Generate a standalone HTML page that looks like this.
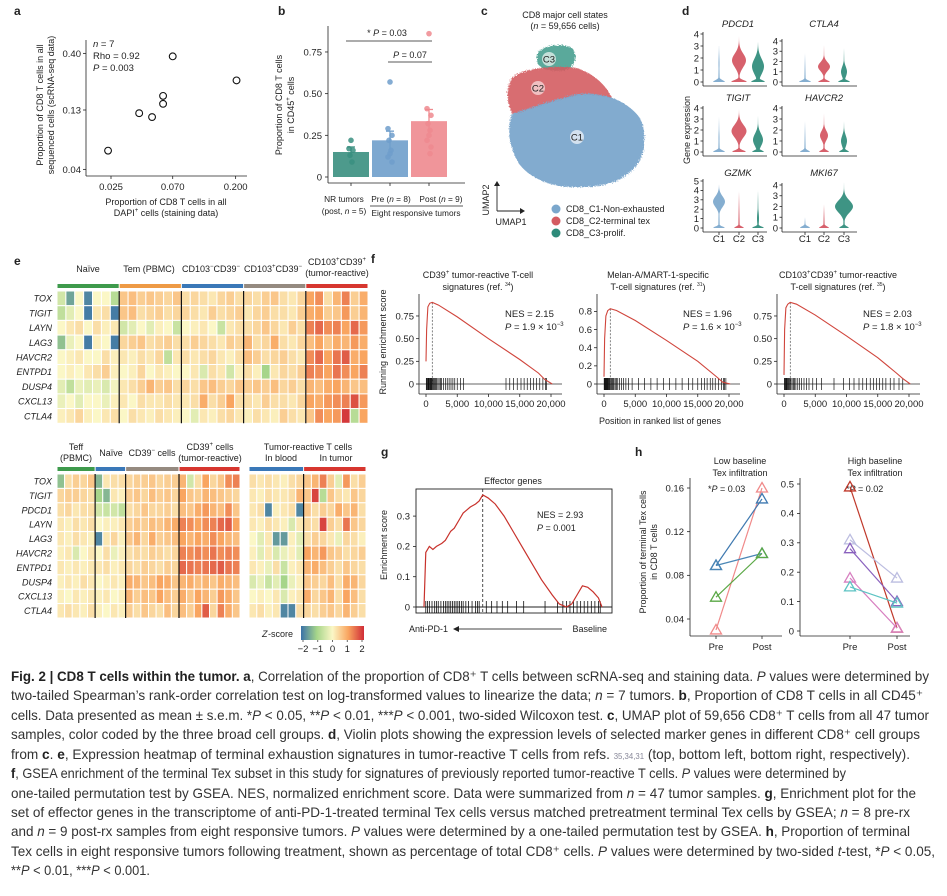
<!DOCTYPE html>
<html><head><meta charset="utf-8"><title>Fig. 2 CD8 T cells within the tumor</title>
<style>
html,body{margin:0;padding:0;background:#fff;}
svg text{font-family:"Liberation Sans",sans-serif;fill:#222;}
.t{font-size:9.5px;}
.s{font-size:9px;}
.xs{font-size:8.3px;}
.pl{font-size:12px;font-weight:bold;}
.it{font-style:italic;}
.cap{font-size:14px;fill:#333;}
.cap .b{font-weight:bold;fill:#222;}
</style></head>
<body>
<svg id="fig" width="947" height="891" viewBox="0 0 947 891" xmlns="http://www.w3.org/2000/svg">
<rect x="0" y="0" width="947" height="891" fill="#fff"/>

<!-- Panel a -->
<g id="pa">
<text class="pl" x="14" y="15">a</text>
<text class="t" x="93" y="47"><tspan class="it">n</tspan> = 7</text>
<text class="t" x="93" y="59">Rho = 0.92</text>
<text class="t" x="93" y="71"><tspan class="it">P</tspan> = 0.003</text>
<text class="s" transform="translate(43,105) rotate(-90)" text-anchor="middle">Proportion of CD8 T cells in all</text>
<text class="s" transform="translate(54,105) rotate(-90)" text-anchor="middle">sequenced cells (scRNA-seq data)</text>
<text class="s" x="166" y="205" text-anchor="middle">Proportion of CD8 T cells in all</text>
<text class="s" x="166" y="216" text-anchor="middle">DAPI<tspan font-size="6" dy="-4">+</tspan><tspan dy="4"> cells (staining data)</tspan></text>
</g>

<!-- Panel b -->
<g id="pb">
<text class="pl" x="278" y="15">b</text>
<text class="s" transform="translate(282,105) rotate(-90)" text-anchor="middle">Proportion of CD8 T cells</text>
<text class="s" transform="translate(294,105) rotate(-90)" text-anchor="middle">in CD45<tspan font-size="6" dy="-4">+</tspan><tspan dy="4"> cells</tspan></text>
<text class="xs" x="344" y="202" text-anchor="middle">NR tumors</text>
<text class="xs" x="344" y="214" text-anchor="middle">(post, <tspan class="it">n</tspan> = 5)</text>
<text class="xs" x="391" y="202" text-anchor="middle">Pre (<tspan class="it">n</tspan> = 8)</text>
<text class="xs" x="441" y="202" text-anchor="middle">Post (<tspan class="it">n</tspan> = 9)</text>
<line x1="370" y1="206" x2="463" y2="206" stroke="#222" stroke-width="0.8"/>
<text class="xs" x="416" y="216" text-anchor="middle">Eight responsive tumors</text>
<line x1="346" y1="41" x2="432" y2="41" stroke="#222" stroke-width="0.8"/>
<text class="s" x="387" y="36" text-anchor="middle">* <tspan class="it">P</tspan> = 0.03</text>
<line x1="388" y1="62" x2="432" y2="62" stroke="#222" stroke-width="0.8"/>
<text class="s" x="410" y="58" text-anchor="middle"><tspan class="it">P</tspan> = 0.07</text>
</g>

<!-- Panel c -->
<g id="pc">
<defs>
<filter id="fz" x="-10%" y="-10%" width="120%" height="120%"><feTurbulence type="fractalNoise" baseFrequency="0.9" numOctaves="1" result="n"/><feDisplacementMap in="SourceGraphic" in2="n" scale="5"/></filter>
</defs>
<text class="pl" x="481" y="15">c</text>
<text class="s" x="565" y="18" text-anchor="middle">CD8 major cell states</text>
<text class="s" x="565" y="29" text-anchor="middle">(<tspan class="it">n</tspan> = 59,656 cells)</text>
<g filter="url(#fz)">
<path d="M537,56 C538,46 560,42 572,48 C578,54 576,66 566,70 C552,72 540,70 537,62 Z" fill="#3d9a8a" opacity="0.85"/>
<path d="M512,78 C520,70 545,66 565,67 C585,66 605,82 612,98 C600,96 590,93 575,96 C555,100 530,110 512,114 C506,100 506,88 512,78 Z" fill="#d45c62" opacity="0.9"/>
<path d="M512,114 C530,108 555,99 578,94 C600,92 625,98 640,118 C648,135 646,160 630,172 C620,182 600,188 578,187 C555,188 532,180 520,165 C510,150 506,130 512,114 Z" fill="#7ba7cc" opacity="0.95"/>
</g>
<circle cx="549" cy="59" r="7" fill="#cfe6e0" opacity="0.9"/>
<text class="t" x="549" y="62.5" text-anchor="middle">C3</text>
<circle cx="538" cy="88" r="7" fill="#f3c9cb" opacity="0.9"/>
<text class="t" x="538" y="91.5" text-anchor="middle">C2</text>
<circle cx="577" cy="137" r="7" fill="#dbe7f2" opacity="0.9"/>
<text class="t" x="577" y="140.5" text-anchor="middle">C1</text>
<line x1="497" y1="211" x2="497" y2="184" stroke="#222" stroke-width="0.9"/>
<path d="M494,186 L497,181 L500,186 Z" fill="#222"/>
<line x1="497" y1="211" x2="522" y2="211" stroke="#222" stroke-width="0.9"/>
<path d="M520,208 L525,211 L520,214 Z" fill="#222"/>
<text class="s" transform="translate(489,200) rotate(-90)" text-anchor="middle">UMAP2</text>
<text class="s" x="511" y="225" text-anchor="middle">UMAP1</text>
<circle cx="556" cy="209" r="4.5" fill="#7ba7cc"/>
<text class="s" x="566" y="212">CD8_C1-Non-exhausted</text>
<circle cx="556" cy="221" r="4.5" fill="#d45c62"/>
<text class="s" x="566" y="224">CD8_C2-terminal tex</text>
<circle cx="556" cy="233" r="4.5" fill="#2e8b7a"/>
<text class="s" x="566" y="236">CD8_C3-prolif.</text>
</g>

<!-- Panel d -->
<g id="pd">
<text class="pl" x="682" y="15">d</text>
<text class="s" transform="translate(690,130) rotate(-90)" text-anchor="middle">Gene expression</text>
</g>

<!-- Panel e -->
<g id="pe">
<text class="pl" x="14" y="265">e</text>
<text class="s" x="88" y="272" text-anchor="middle">Naïve</text>
<text class="s" x="149" y="272" text-anchor="middle">Tem (PBMC)</text>
<text class="s" x="211" y="272" text-anchor="middle">CD103<tspan font-size="6" dy="-4">−</tspan><tspan dy="4">CD39</tspan><tspan font-size="6" dy="-4">−</tspan></text>
<text class="s" x="273" y="272" text-anchor="middle">CD103<tspan font-size="6" dy="-4">+</tspan><tspan dy="4">CD39</tspan><tspan font-size="6" dy="-4">−</tspan></text>
<text class="s" x="337" y="265" text-anchor="middle">CD103<tspan font-size="6" dy="-4">+</tspan><tspan dy="4">CD39</tspan><tspan font-size="6" dy="-4">+</tspan></text>
<text class="s" x="337" y="276" text-anchor="middle">(tumor-reactive)</text>
<text class="s" x="76" y="450" text-anchor="middle">Teff</text>
<text class="s" x="76" y="461" text-anchor="middle">(PBMC)</text>
<text class="s" x="111" y="456" text-anchor="middle">Naïve</text>
<text class="s" x="152" y="456" text-anchor="middle">CD39<tspan font-size="6" dy="-4">−</tspan><tspan dy="4"> cells</tspan></text>
<text class="s" x="210" y="450" text-anchor="middle">CD39<tspan font-size="6" dy="-4">+</tspan><tspan dy="4"> cells</tspan></text>
<text class="s" x="210" y="461" text-anchor="middle">(tumor-reactive)</text>
<text class="s" x="308" y="450" text-anchor="middle">Tumor-reactive T cells</text>
<text class="s" x="281" y="461" text-anchor="middle">In blood</text>
<text class="s" x="336" y="461" text-anchor="middle">In tumor</text>
<text class="s it" x="262" y="637">Z</text><text class="s" x="268" y="637">-score</text>
</g>

<!-- Panel f -->
<g id="pf">
<text class="pl" x="371" y="263">f</text>
<text class="s" transform="translate(386,342) rotate(-90)" text-anchor="middle">Running enrichment score</text>
<text class="s" x="660" y="424" text-anchor="middle">Position in ranked list of genes</text>
<text class="s" x="478" y="278" text-anchor="middle">CD39<tspan font-size="6" dy="-4">+</tspan><tspan dy="4"> tumor-reactive T-cell</tspan></text>
<text class="s" x="478" y="290" text-anchor="middle">signatures (ref. <tspan font-size="5" dy="-4">34</tspan><tspan dy="4">)</tspan></text>
<text class="s" x="658" y="278" text-anchor="middle">Melan-A/MART-1-specific</text>
<text class="s" x="658" y="290" text-anchor="middle">T-cell signatures (ref. <tspan font-size="5" dy="-4">31</tspan><tspan dy="4">)</tspan></text>
<text class="s" x="838" y="278" text-anchor="middle">CD103<tspan font-size="6" dy="-4">+</tspan><tspan dy="4">CD39</tspan><tspan font-size="6" dy="-4">+</tspan><tspan dy="4"> tumor-reactive</tspan></text>
<text class="s" x="838" y="290" text-anchor="middle">T-cell signatures (ref. <tspan font-size="5" dy="-4">35</tspan><tspan dy="4">)</tspan></text>
</g>

<!-- Panel g -->
<g id="pg">
<text class="pl" x="381" y="456">g</text>
<text class="s" x="513" y="484" text-anchor="middle">Effector genes</text>
<text class="s" transform="translate(387,545) rotate(-90)" text-anchor="middle">Enrichment score</text>
<text class="s" x="537" y="518">NES = 2.93</text>
<text class="s" x="537" y="531"><tspan class="it">P</tspan> = 0.001</text>
<text class="s" x="409" y="632">Anti-PD-1</text>
<line x1="458" y1="629" x2="562" y2="629" stroke="#444" stroke-width="0.9"/>
<path d="M453,629 L459,626 L459,632 Z" fill="#222"/>
<text class="s" x="607" y="632" text-anchor="end">Baseline</text>
</g>

<!-- Panel h -->
<g id="ph">
<text class="pl" x="635" y="456">h</text>
<text class="s" x="740" y="464" text-anchor="middle">Low baseline</text>
<text class="s" x="740" y="476" text-anchor="middle">Tex infiltration</text>
<text class="s" x="875" y="464" text-anchor="middle">High baseline</text>
<text class="s" x="875" y="476" text-anchor="middle">Tex infiltration</text>
<text class="s" x="708" y="492">*<tspan class="it">P</tspan> = 0.03</text>
<text class="s" x="846" y="492">*<tspan class="it">P</tspan> = 0.02</text>
<text class="s" transform="translate(646,552) rotate(-90)" text-anchor="middle">Proportion of terminal Tex cells</text>
<text class="s" transform="translate(657,552) rotate(-90)" text-anchor="middle">in CD8 T cells</text>
</g>

<!-- Caption -->
<g id="caption">
<text class="cap" x="11" y="681" textLength="918" lengthAdjust="spacingAndGlyphs"><tspan class="b">Fig. 2 | CD8 T cells within the tumor. a</tspan>, Correlation of the proportion of CD8⁺ T cells between scRNA-seq and staining data. <tspan class="it">P</tspan> values were determined by</text>
<text class="cap" x="11" y="700" textLength="912" lengthAdjust="spacingAndGlyphs">two-tailed Spearman’s rank-order correlation test on log-transformed values to linearize the data; <tspan class="it">n</tspan> = 7 tumors. <tspan class="b">b</tspan>, Proportion of CD8 T cells in all CD45⁺</text>
<text class="cap" x="11" y="720" textLength="918" lengthAdjust="spacingAndGlyphs">cells. Data presented as mean ± s.e.m. *<tspan class="it">P</tspan> &lt; 0.05, **<tspan class="it">P</tspan> &lt; 0.01, ***<tspan class="it">P</tspan> &lt; 0.001, two-sided Wilcoxon test. <tspan class="b">c</tspan>, UMAP plot of 59,656 CD8⁺ T cells from all 47 tumor</text>
<text class="cap" x="11" y="739" textLength="909" lengthAdjust="spacingAndGlyphs">samples, color coded by the three broad cell groups. <tspan class="b">d</tspan>, Violin plots showing the expression levels of selected marker genes in different CD8⁺ cell groups</text>
<text class="cap" x="11" y="759" textLength="899" lengthAdjust="spacingAndGlyphs">from <tspan class="b">c</tspan>. <tspan class="b">e</tspan>, Expression heatmap of terminal exhaustion signatures in tumor-reactive T cells from refs. <tspan font-size="8" fill="#889">35,34,31</tspan> (top, bottom left, bottom right, respectively).</text>
<text class="cap" x="11" y="778" textLength="835" lengthAdjust="spacingAndGlyphs"><tspan class="b">f</tspan>, GSEA enrichment of the terminal Tex subset in this study for signatures of previously reported tumor-reactive T cells. <tspan class="it">P</tspan> values were determined by</text>
<text class="cap" x="11" y="798" textLength="905" lengthAdjust="spacingAndGlyphs">one-tailed permutation test by GSEA. NES, normalized enrichment score. Data were summarized from <tspan class="it">n</tspan> = 47 tumor samples. <tspan class="b">g</tspan>, Enrichment plot for the</text>
<text class="cap" x="11" y="817" textLength="899" lengthAdjust="spacingAndGlyphs">set of effector genes in the transcriptome of anti-PD-1-treated terminal Tex cells versus matched pretreatment terminal Tex cells by GSEA; <tspan class="it">n</tspan> = 8 pre-rx</text>
<text class="cap" x="11" y="836" textLength="899" lengthAdjust="spacingAndGlyphs">and <tspan class="it">n</tspan> = 9 post-rx samples from eight responsive tumors. <tspan class="it">P</tspan> values were determined by a one-tailed permutation test by GSEA. <tspan class="b">h</tspan>, Proportion of terminal</text>
<text class="cap" x="11" y="856" textLength="924" lengthAdjust="spacingAndGlyphs">Tex cells in eight responsive tumors following treatment, shown as percentage of total CD8⁺ cells. <tspan class="it">P</tspan> values were determined by two-sided <tspan class="it">t</tspan>-test, *<tspan class="it">P</tspan> &lt; 0.05,</text>
<text class="cap" x="11" y="875" textLength="139" lengthAdjust="spacingAndGlyphs">**<tspan class="it">P</tspan> &lt; 0.01, ***<tspan class="it">P</tspan> &lt; 0.001.</text>
</g>
</svg>

<script>
// ---------- DATA ----------
// panel a
const aXVals=[0.0238,0.040,0.0496,0.0596,0.0596,0.070,0.203];
const aYVals=[0.058,0.122,0.113,0.172,0.147,0.377,0.234];
const aXTicks=[0.025,0.070,0.200];
const aXTickLabels=['0.025','0.070','0.200'];
const aYTicks=[0.04,0.13,0.40];
const aYTickLabels=['0.04','0.13','0.40'];
// panel b
const bGroups=['NR','Pre','Post'];
const bMeans=[0.15,0.22,0.335];
const bSem=[0.03,0.055,0.07];
const bPointsNR=[0.22,0.17,0.16,0.13,0.09];
const bPointsPre=[0.57,0.29,0.25,0.22,0.16,0.14,0.12,0.09];
const bPointsPost=[0.86,0.41,0.37,0.32,0.28,0.25,0.22,0.18,0.14];
const bYTicks=[0,0.25,0.5,0.75];
const bYTickLabels=['0','0.25','0.50','0.75'];
// panel d (violin params: base halfwidth, body centre, body halfwidth, body spread, max)
const dGenes=['PDCD1','CTLA4','TIGIT','HAVCR2','GZMK','MKI67'];
const dClusters=['C1','C2','C3'];
const vPDCD1=[[6,1.5,0.5,1,3.0],[8,1.8,7,0.8,3.8],[7,1.3,6,0.9,3.3]];
const vCTLA4=[[6,1,0.3,1,2.8],[6,1.5,6,0.6,3.6],[6,1,3,0.7,3.3]];
const vTIGIT=[[6,1.2,0.5,1,3.2],[7,1.9,7.5,0.8,3.9],[6,1.1,5,0.8,3.3]];
const vHAVCR2=[[5,1,0.2,1,2.8],[5,1.5,4,0.6,3.5],[5,1,3,0.7,2.8]];
const vGZMK=[[6,2.8,6,0.8,4.6],[5,1,0.5,1,3.9],[6,1,1,1,4.0]];
const vMKI67=[[5,1,0,1,1.0],[5,1,0.3,0.6,2.2],[5,2,9,0.8,4.3]];
const dMax=[4,4,4,4,5,4];
// panel e heatmaps
const eGenesTop=['TOX','TIGIT','LAYN','LAG3','HAVCR2','ENTPD1','DUSP4','CXCL13','CTLA4'];
const eGroupsTop=['Naive','Tem','CD103-CD39-','CD103+CD39-','CD103+CD39+'];
const eGroupSizesTop=[7,7,7,7,7];
const eTop=[
[-0.5,-1.5,0,-1.8,0,0,-0.8, 0.6,0.7,0.5,0.6,0.5,0.4,0.6, 0.3,0.4,0.3,0.2,0.4,0.5,0.3, 0.4,0.3,0.5,0.6,0.3,0.2,0.4, 1,1.2,0.3,0.8,1.3,0.5,0.9],
[-0.7,-0.3,0,-1.9,0.2,0.3,-1.9, 0.6,0.7,0.3,0.4,0.5,0.3,0.4, 0.4,0.3,0.2,0.5,0.3,0.4,0.5, 0.2,0.4,0.5,0.3,0.3,0.2,0.5, 0.9,1.0,0.5,0.6,1.1,0.5,0.8],
[0,0.2,0.3,0,0.3,0.1,0.2, -0.5,-0.3,0,-0.3,0.1,0,-0.6, 0,0.1,0.2,0,-0.6,0.2,0.3, 0.3,0.4,0.6,0.4,0.2,0.5,0.3, 1.3,1.5,1.2,1.3,1.0,1.5,1.1],
[-1.2,-0.2,0,-1.9,0.1,0,-1.9, 0.4,0.5,0.6,0.3,0.4,0.5,0.3, 0.3,0.5,0.4,0.3,0.2,0.5,0.4, 0.8,0.3,0.4,0.9,0.3,0.2,0.4, 0.7,1.0,0.6,0.9,0.8,1.1,0.9],
[0,0.1,0.2,0,0,0.3,0.1, 0.2,0.1,0.3,0.2,0.4,-0.7,0.2, 0.3,0.2,0.3,0.4,0.2,0.1,0.3, 0.7,0.5,0.3,0.4,0.5,0.3,0.2, 1.2,1.5,1.0,1.4,1.6,0.9,1.0],
[0,0.1,0,0.2,0.3,0.5,0.1, 0,0.1,0.4,0,0.2,0.1,0, 0,0.2,-0.4,0.3,0.2,-0.5,0.1, 0.3,0.1,-1.0,0.2,0.4,0.3,0.5, 1.3,1.2,1.0,1.4,1.2,1.0,1.3],
[-0.3,-0.7,-0.2,-0.3,-0.2,-0.4,-0.1, 0.2,0.3,0.5,0.8,0.5,0.6,0.3, 0.4,0.3,0.6,0.7,0.5,0.4,0.6, 0.5,0.6,0.5,0.7,0.4,0.5,0.3, 0.8,0.7,0.9,1.0,0.8,0.6,0.7],
[-0.2,0,-0.3,0,0,-0.2,0.1, 0.2,0,0.3,0.2,0.2,0.3,0.2, 0.2,0.3,0.9,0.3,0.5,1.0,0.3, 0.3,0.2,0.5,0.3,0.3,0.2,0.4, 1.0,0.9,1.1,1.2,1.3,1.7,1.1],
[0.1,0.2,0.4,0.1,0,0.2,0.3, 0,0.3,0.2,0.1,0.3,0.2,0.1, 0,-0.3,0.2,0.1,0.3,0.4,0.2, 0.1,0.3,0.2,0.1,0.5,0.3,0.2, 0.6,1.2,1.0,1.1,1.9,-0.8,1.0]
];
const eGenesBottom=['TOX','TIGIT','PDCD1','LAYN','LAG3','HAVCR2','ENTPD1','DUSP4','CXCL13','CTLA4'];
const eGroupSizesBL=[5,4,7,8];
const eBL=[
[-1.2,0.3,0.5,0.4,0.6, -1.3,0.2,0.3,0.3, 0.4,0.5,0.5,0.6,0.4,0.5,0.5, 0.8,-0.5,0.3,1.0,0.4,0.6,1.2,1.3],
[0.4,0.5,0.5,0.4,0.3, -1.0,-1.3,0.2,0.1, 0.5,0.6,0.4,0.7,0.5,0.6,0.4, 1.0,0.6,0.5,0.8,0.7,0.6,0.5,0.4],
[0.3,0.4,0.2,0.3,0.3, -0.5,-0.6,-0.5,-0.7, 0.3,0.4,0.6,0.4,0.4,0.5,0.3, 0.7,0.6,0.9,1.1,0.8,0.7,1.2,0.6],
[0.2,0.1,0.3,0.2,0.3, 0,0.1,0.1,0.2, 0.5,0.6,0.5,0.7,0.6,0.8,0.9, 1.3,1.2,1.0,1.2,1.3,1.5,1.6,1.0],
[0.2,0.1,0.3,0.2,0.1, -1.8,0.2,0.4,0.1, 0.6,0.8,0.4,0.9,0.5,0.6,0.7, 1.0,0.8,1.0,0.9,1.2,1.0,0.8,0.7],
[0.1,0.2,-0.4,0,0.2, 0,0.3,-0.2,0.1, 0.3,0.4,0.3,0.5,0.4,0.3,0.4, 1.3,1.2,1.3,1.2,1.4,1.2,1.3,1.2],
[0.2,0.1,0.2,0.1,0.2, 0.2,0.3,0.1,0.2, 0.4,0.3,0.5,0.4,0.3,0.5,0.4, 1.5,1.4,1.3,1.4,1.5,1.6,1.4,1.3],
[0.1,0.2,0.1,0.3,0.2, 0,0.1,0.2,0.1, 0.9,0.8,0.6,0.7,1.0,0.9,0.6, 0.8,0.9,0.7,0.8,0.6,0.9,0.8,0.7],
[0.1,0,0.2,0.1,0.2, 0.1,0.2,0,0.1, 0.8,0.5,0.7,0.6,1.0,0.7,0.5, 0.9,0.6,1.0,0.8,0.5,1.1,0.9,0.6],
[0.2,0.3,0.2,0.1,0.3, 0.1,0,0.2,0.1, 0.5,0.3,0.6,0.4,0.3,0.7,0.4, 0.7,0.5,1.0,1.6,0.4,1.3,0.9,0.6]
];
const eGroupSizesBR=[7,8];
const eBR=[
[0.3,0.2,0.3,0.2,0.1,0.3,0.4, 0.6,0.8,1.3,0.5,-0.3,1.1,0.3,0.5],
[0.2,0.1,0.3,0.2,0.2,0.3,0.8, 0.6,1.8,-0.8,0.6,0.3,0.2,0.6,0.4],
[0.2,0.3,-1.8,0.1,0.2,0.3,-1.8, 0.6,0.3,0.5,0.4,0.9,0.6,0.8,0.3],
[0.2,0.1,0.3,0.2,0.1,-0.4,0.2, 0.4,0.3,1.8,0.5,0.3,1.4,0.6,0.4],
[0,-0.3,0.2,-1.6,-1.6,0.1,-0.3, 0.3,0.5,0.4,0.2,-0.2,0.4,0.3,0.1],
[0.1,-0.3,0.2,-0.4,-0.2,0.1,-0.3, 1.0,0.8,1.1,0.6,0.5,0.3,0.4,0.5],
[0.2,0.1,-0.2,0.3,-0.6,0.1,0.2, 0.8,0.9,0.7,0.5,0.3,0.6,0.4,0.3],
[-0.4,-0.2,-0.6,-0.3,-1.0,-0.2,0.1, 0.6,0.5,0.4,0.7,0.3,0.9,0.8,0.4],
[0,0.1,0,0.2,-0.4,0.1,0.2, 0.9,0.4,0.6,0.8,0.3,1.0,0.7,0.3],
[0.2,0.3,0.1,0.2,-1.8,-1.8,0.3, 0.4,0.3,0.5,0.6,0.4,0.8,0.5,0.3]
];
const zTicks=[-2,-1,0,1,2];
// panel f
const fRanks=[0,100,300,600,1000,2000,5000,10000,15000,18000,19000,20200];
const fES1=[0.25,0.6,0.85,0.89,0.9,0.87,0.74,0.5,0.27,0.12,0.05,0];
const fES2=[0.08,0.5,0.75,0.81,0.83,0.81,0.7,0.48,0.25,0.08,0.02,0];
const fES3=[0.1,0.6,0.84,0.88,0.9,0.88,0.76,0.53,0.29,0.12,0.06,0];
const fHits1=[50,150,250,350,450,550,650,750,850,950,1100,1250,1400,1550,1700,1900,2100,2300,2500,2800,3100,3400,3700,4000,4300,4600,5000,5500,6000,12800,13400,14000,14600,15200,15700,16200,16700,17200,17700,18200,18700,19100,19300];
const fHits2=[30,100,180,260,340,420,500,600,700,800,900,1000,1150,1300,1450,1600,1800,2000,2200,2500,2800,3100,3500,3900,4500,5500,6500,7500,8500,9500,10500,11500,12500,13500,14200,15000,15600,16100,16500,17000,17400,17800,18300,18800,19100,19300,19500];
const fHits3=[60,160,260,360,460,560,660,800,950,1100,1300,1500,1700,1900,2200,2500,2800,3200,3600,4000,4600,5200,6000,8000,9500,10500,11200,12000,12600,13200,13800,14300,14800,15300,15800,16300,17000,17600,18400,19000];
const fNES=['2.15','1.96','2.03'];
const fP=['1.9','1.6','1.8'];
const fXTicks=[0,5000,10000,15000,20000];
const fXTickLabels=['0','5,000','10,000','15,000','20,000'];
const fYTicks1=[0,0.25,0.5,0.75];
const fYTickLabels1=['0','0.25','0.50','0.75'];
const fYTicks2=[0,0.2,0.4,0.6,0.8];
const fYTickLabels2=['0','0.2','0.4','0.6','0.8'];
// panel g
const gPos=[0,0.01,0.03,0.05,0.07,0.1,0.12,0.15,0.17,0.2,0.22,0.24,0.26,0.29,0.31,0.33,0.36,0.4,0.45,0.5,0.55,0.6,0.66,0.72,0.76,0.8,0.83,0.86,0.89,0.92,0.95,0.98,1.0];
const gES=[0,0.18,0.2,0.19,0.2,0.21,0.22,0.25,0.26,0.29,0.31,0.32,0.33,0.34,0.35,0.37,0.36,0.34,0.3,0.25,0.2,0.15,0.09,0.04,0.01,0.0,0.01,0.04,0.07,0.065,0.05,0.03,0.0];
const gPeak=0.33;
const gHits=[0.01,0.02,0.03,0.045,0.06,0.07,0.08,0.095,0.11,0.12,0.13,0.14,0.15,0.16,0.17,0.18,0.19,0.2,0.21,0.22,0.235,0.25,0.27,0.29,0.3,0.31,0.35,0.38,0.41,0.44,0.47,0.52,0.56,0.68,0.75,0.78,0.8,0.82,0.84,0.86,0.88,0.9,0.92,0.94,0.96,0.98,0.99];
const gYTicks=[0,0.1,0.2,0.3];
const gYTickLabels=['0','0.1','0.2','0.3'];
// panel h
const hLowPre=[0.03,0.089,0.089,0.06];
const hLowPost=[0.16,0.15,0.10,0.10];
const hLowColors=['#f08a8a','#3f79b0','#4a86b5','#5aa845'];
const hHighPre=[0.49,0.31,0.28,0.18,0.15];
const hHighPost=[0.01,0.18,0.10,0.01,0.095];
const hHighColors=['#c0392b','#bcbde0','#8a62be','#d77fc0','#5cc3c3'];
const hLowTicks=[0.04,0.08,0.12,0.16];
const hLowTickLabels=['0.04','0.08','0.12','0.16'];
const hHighTicks=[0,0.1,0.2,0.3,0.4,0.5];
const hHighTickLabels=['0','0.1','0.2','0.3','0.4','0.5'];

// ---------- HELPERS ----------
const NS='http://www.w3.org/2000/svg';
function mk(tag,parent,attrs){const e=document.createElementNS(NS,tag);for(const k in attrs)e.setAttribute(k,attrs[k]);parent.appendChild(e);return e;}
function txt(parent,x,y,s,anchor,cls){const t=mk('text',parent,{x:x,y:y,'text-anchor':anchor||'middle','class':cls||'s'});t.textContent=s;return t;}
function ln(parent,x1,y1,x2,y2,c,w){return mk('line',parent,{x1:x1,y1:y1,x2:x2,y2:y2,stroke:c||'#222','stroke-width':w||0.8});}
function tri(parent,cx,cy,c){return mk('path',parent,{d:`M${cx},${cy-5.5} L${cx+5.5},${cy+4} L${cx-5.5},${cy+4} Z`,fill:'none',stroke:c,'stroke-width':1.3});}
const zStops=[[-2,[58,114,168]],[-1,[166,213,138]],[0,[251,247,198]],[1,[249,165,96]],[2,[208,45,55]]];
function zcol(v){v=Math.max(-2,Math.min(2,v));for(let i=0;i<zStops.length-1;i++){const a=zStops[i],b=zStops[i+1];if(v<=b[0]){const t=(v-a[0])/(b[0]-a[0]);const c=a[1].map((x,j)=>Math.round(x+(b[1][j]-x)*t));return `rgb(${c.join(',')})`;}}return 'rgb(208,45,55)';}

// ---------- PANEL A ----------
(function(){
const g=document.getElementById('pa');
const ax=v=>111+(Math.log10(v)-Math.log10(0.025))*138;
const ay=v=>110-(Math.log10(v)-Math.log10(0.13))*116;
const yl=ln(g,86,40,86,176);


const xl=ln(g,86,176,247,176);


aXTicks.forEach((v,i)=>{ln(g,ax(v),176,ax(v),179);const t=txt(g,ax(v),190,aXTickLabels[i],'middle','t');

});
aYTicks.forEach((v,i)=>{ln(g,83,ay(v),86,ay(v));const t=txt(g,81,ay(v)+3.5,aYTickLabels[i],'end','t');

});
aXVals.forEach((v,i)=>{const c=mk('circle',g,{cx:ax(v),cy:ay(aYVals[i]),r:3.4,fill:'none',stroke:'#111','stroke-width':1.1});

});
})();

// ---------- PANEL B ----------
(function(){
const g=document.getElementById('pb');
const by=v=>177-v*166.7;
const cx=[351,390,429];
const cols=['#3a8f80','#6f9ecb','#ee8a8f'];
const pts=[bPointsNR,bPointsPre,bPointsPost];
const yl=ln(g,328,26,328,183);


const xl=ln(g,328,183,465,183);


bYTicks.forEach((v,i)=>{ln(g,325,by(v),328,by(v));const t=txt(g,322,by(v)+3.5,bYTickLabels[i],'end','t');

});
bGroups.forEach((grp,i)=>{
 ln(g,cx[i],183,cx[i],186);
 const r=mk('rect',g,{x:cx[i]-18,y:by(bMeans[i]),width:36,height:by(0)-by(bMeans[i]),fill:cols[i],opacity:0.9});
 
 
 const e=ln(g,cx[i],by(bMeans[i]-bSem[i]),cx[i],by(bMeans[i]+bSem[i]),cols[i],1.3);
 
 
 ln(g,cx[i]-4,by(bMeans[i]+bSem[i]),cx[i]+4,by(bMeans[i]+bSem[i]),cols[i],1.3);
 pts[i].forEach((v,j)=>{const dx=[0,-2,2,-1,1,0,-2,2,1][j%9];const c=mk('circle',g,{cx:cx[i]+dx,cy:by(v),r:2.8,fill:cols[i],opacity:0.85});
 
 });
});
})();

// ---------- PANEL D ----------
(function(){
const g=document.getElementById('pd');
const vData=[vPDCD1,vCTLA4,vTIGIT,vHAVCR2,vGZMK,vMKI67];
const cols=['#7ba7cc','#d4545f','#2e8b7a'];
const axX=[703,782,703,782,703,782];
const zeroY=[82,82,152,152,228,228];
const topY=[34,41,108,108,181,185];
const titleY=[27,27,101,101,176,176];
const cOff=[16,36,55];
const cOffR=[23,42,62];
dGenes.forEach((gene,k)=>{
 const x0=axX[k],y0=zeroY[k];const ppu=(y0-topY[k])/dMax[k];
 const tt=txt(g,x0+(k%2?42:35),titleY[k],gene,'middle','t it');
 
 
 ln(g,x0,topY[k]-2,x0,y0+4);
 const xe=x0+(k%2?75:64);
 ln(g,x0,y0+4,xe,y0+4);
 for(let v=0;v<=dMax[k];v++){ln(g,x0-2.5,y0-v*ppu,x0,y0-v*ppu);const t=txt(g,x0-4,y0-v*ppu+3.3,String(v),'end','t');
 
 }
 dClusters.forEach((cl,c)=>{
  const xc=x0+(k%2?cOffR[c]:cOff[c]);
  const p=vData[k][c];
  const [base,m,w,s,t]=p;
  const L=[],R=[];
  for(let i=0;i<=40;i++){const y=t*i/40;
   let hw=Math.max(base*Math.exp(-Math.pow(y/0.22,2)),w*Math.exp(-Math.pow((y-m)/s,2)),0.7*(1-y/t));
   L.push([xc-hw,y0-y*ppu]);R.push([xc+hw,y0-y*ppu]);}
  const d='M'+R.map(q=>q.join(',')).join(' L')+' L'+L.reverse().map(q=>q.join(',')).join(' L')+' Z';
  const pth=mk('path',g,{d:d,fill:cols[c],opacity:0.92});
  
  
  if(k>=4){ln(g,xc,y0+4,xc,y0+7);const lt=txt(g,xc,242,cl,'middle','t');
  
  }
 });
});
})();

// ---------- PANEL E ----------
function heat(g,mat,genes,x0,y0,w,rowH,sizes,showGenes,name){
 const n=mat[0].length;const cw=w/n;
 mat.forEach((row,r)=>{
  if(showGenes){const t=txt(g,x0-5,y0+r*rowH+rowH/2+3.3,genes[r],'end','s it');
  
  }
  row.forEach((v,c)=>{const rc=mk('rect',g,{x:x0+c*cw,y:y0+r*rowH,width:cw,height:rowH,fill:zcol(v),stroke:'#fff','stroke-width':1});
  
  });
 });
 let acc=0;
 sizes.forEach((s,i)=>{acc+=s;if(i<sizes.length-1){const l=ln(g,x0+acc*cw,y0,x0+acc*cw,y0+mat.length*rowH,'#111',1.2);
 
 }});
 return cw;
}
function bars(g,x0,cw,sizes,cols,y){let acc=0;sizes.forEach((s,i)=>{const r=mk('rect',g,{x:x0+acc*cw+0.5,y:y,width:s*cw-1,height:4,fill:cols[i]});
 
 acc+=s;});}
(function(){
const g=document.getElementById('pe');
const cwT=heat(g,eTop,eGenesTop,57,291,311,14.7,eGroupSizesTop,true,'heatmap-top');
bars(g,57,cwT,eGroupSizesTop,['#3e9a4c','#ee9a45','#3a78b8','#958a80','#d7362f'],284);
const cwL=heat(g,eBL,eGenesBottom,57,474,183,14.4,eGroupSizesBL,true,'heatmap-bottom-left');
bars(g,57,cwL,eGroupSizesBL,['#3e9a4c','#3a78b8','#958a80','#d7362f'],467);
const cwR=heat(g,eBR,eGenesBottom,249,474,117,14.4,eGroupSizesBR,false,'heatmap-bottom-right');
bars(g,249,cwR,eGroupSizesBR,['#3a78b8','#d7362f'],467);
const defs=mk('defs',g,{});const lg=mk('linearGradient',defs,{id:'zg',x1:'0',x2:'1',y1:'0',y2:'0'});
zStops.forEach(s=>mk('stop',lg,{offset:((s[0]+2)/4*100)+'%','stop-color':zcol(s[0])}));
const cb=mk('rect',g,{x:301,y:626,width:63,height:14,fill:'url(#zg)'});


zTicks.forEach(v=>{const x=303+(v+2)/4*59;ln(g,x,640,x,642,'#444');const t=txt(g,x,652,v<0?'−'+Math.abs(v):String(v),'middle','t');

});
})();

// ---------- PANEL F ----------
(function(){
const g=document.getElementById('pf');
const lefts=[419,597,777];
const es=[fES1,fES2,fES3];const hits=[fHits1,fHits2,fHits3];
const y0=384,ppu=90.7;
lefts.forEach((L,k)=>{
 const fx=r=>L+7+r/20000*125;const fy=v=>y0-v*ppu;
 const R=L+143;
 ln(g,L,294,L,394);ln(g,L,394,R,394);
 const zl=ln(g,L,y0,R,y0,'#333',0.7);
 
 
 fXTicks.forEach((v,i)=>{ln(g,fx(v),394,fx(v),397);const t=txt(g,fx(v),407,fXTickLabels[i],'middle','t');
 
 });
 const yt=k===1?fYTicks2:fYTicks1,ytl=k===1?fYTickLabels2:fYTickLabels1;
 yt.forEach((v,i)=>{ln(g,L-3,fy(v),L,fy(v));const t=txt(g,L-5,fy(v)+3.3,ytl[i],'end','t');
 
 });
 hits[k].forEach(r=>{const l=ln(g,fx(r),378,fx(r),390,'#111',0.7);
 
 });
 const pk=fRanks[es[k].indexOf(Math.max(...es[k]))];
 const dl=mk('line',g,{x1:fx(pk),y1:fy(Math.max(...es[k])),x2:fx(pk),y2:y0,stroke:'#333','stroke-width':0.6,'stroke-dasharray':'2,1.5'});
 
 
 const d='M'+fRanks.map((r,i)=>fx(r)+','+fy(es[k][i])).join(' L');
 const c=mk('path',g,{d:d,fill:'none',stroke:'#d0453c','stroke-width':1.1});
 
 
 const n=txt(g,L+86,317,'NES = '+fNES[k],'start','t');
 
 
 const p=mk('text',g,{x:L+86,y:330,'class':'t'});
 
 
 p.innerHTML='<tspan font-style="italic">P</tspan> = '+fP[k]+' × 10<tspan font-size="6" dy="-4">−3</tspan>';
});
})();

// ---------- PANEL G ----------
(function(){
const g=document.getElementById('pg');
const gx=f=>424+f*178;const gy=v=>607-v*303;
const box=mk('rect',g,{x:416,y:489,width:196,height:124,fill:'none',stroke:'#222','stroke-width':0.9});


ln(g,416,607,612,607,'#222',0.9);
gYTicks.forEach((v,i)=>{ln(g,413,gy(v),416,gy(v));const t=txt(g,410,gy(v)+3.3,gYTickLabels[i],'end','t');

});
gHits.forEach(f=>{const l=ln(g,gx(f),601,gx(f),613,'#111',0.8);

});
const dl=mk('line',g,{x1:gx(gPeak),y1:489,x2:gx(gPeak),y2:613,stroke:'#222','stroke-width':0.8,'stroke-dasharray':'3,2'});


const d='M'+gPos.map((f,i)=>gx(f)+','+gy(gES[i])).join(' L');
const c=mk('path',g,{d:d,fill:'none',stroke:'#c8322c','stroke-width':1.2});


})();

// ---------- PANEL H ----------
(function(){
const g=document.getElementById('ph');
const y1=v=>488-(v-0.16)*1091.7;const y2=v=>631-v*294;
const preX1=716,postX1=762,preX2=850,postX2=897;
ln(g,690,478,690,636);ln(g,690,636,782,636);
ln(g,800,478,800,636);ln(g,800,636,910,636);
hLowTicks.forEach((v,i)=>{ln(g,687,y1(v),690,y1(v));const t=txt(g,684,y1(v)+3.3,hLowTickLabels[i],'end','t');

});
hHighTicks.forEach((v,i)=>{ln(g,797,y2(v),800,y2(v));const t=txt(g,794,y2(v)+3.3,hHighTickLabels[i],'end','t');

});
[[preX1,'Pre'],[postX1,'Post'],[preX2,'Pre'],[postX2,'Post']].forEach(a=>{ln(g,a[0],636,a[0],639);const t=txt(g,a[0],650,a[1],'middle','t');

});
hLowPre.forEach((v,i)=>{const l=ln(g,preX1,y1(v),postX1,y1(hLowPost[i]),hLowColors[i],1.2);


const a=tri(g,preX1,y1(v),hLowColors[i]);


const b=tri(g,postX1,y1(hLowPost[i]),hLowColors[i]);

});
hHighPre.forEach((v,i)=>{const l=ln(g,preX2,y2(v),postX2,y2(hHighPost[i]),hHighColors[i],1.2);


const a=tri(g,preX2,y2(v),hHighColors[i]);


const b=tri(g,postX2,y2(hHighPost[i]),hHighColors[i]);

});
})();
</script>
</body></html>
